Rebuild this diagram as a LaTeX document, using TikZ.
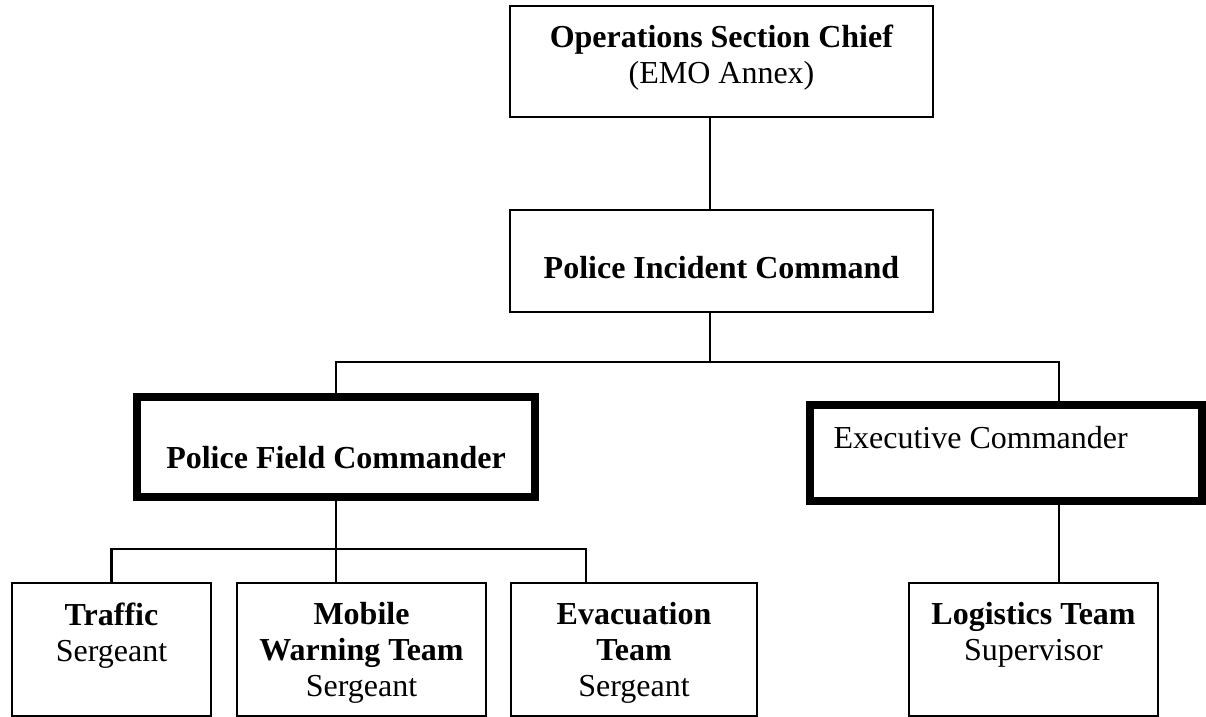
\documentclass[tikz,border=0pt]{standalone}
\usepackage{fontspec}
\setmainfont{Liberation Serif}

\begin{document}
\begin{tikzpicture}[x=0.375pt, y=-0.375pt,
    box/.style={draw, line width=0.8pt, inner sep=0pt},
    heavybox/.style={draw, line width=3pt, inner sep=0pt},
    link/.style={line width=0.8pt},
    txt/.style={font=\fontsize{12}{13.5}\selectfont, align=center, inner sep=0pt}]
        \def\px{0.375pt}                            % one pixel of the picture

        \useasboundingbox (0,0) rectangle (1206,717);

        % Command boxes
        \node[box, minimum width=423*\px, minimum height=111*\px] (ops) at (721.5,61.5) {};
        \node[box, minimum width=423*\px, minimum height=102*\px] (pic) at (721.5,261) {};
        \node[heavybox, minimum width=398*\px, minimum height=100*\px] (pfc) at (336,447) {};
        \node[heavybox, minimum width=392*\px, minimum height=96*\px] (exec) at (1006,453) {};

        % Team boxes
        \node[box, minimum width=199*\px, minimum height=133*\px] (traffic) at (111.5,649.5) {};
        \node[box, minimum width=249*\px, minimum height=133*\px] (mwt) at (361.5,649.5) {};
        \node[box, minimum width=246*\px, minimum height=133*\px] (evac) at (634,649.5) {};
        \node[box, minimum width=249*\px, minimum height=133*\px] (logi) at (1033.5,649.5) {};

        % Texts
        \node[txt, anchor=north] (opsT) at (721.5,24) {\textbf{Operations Section Chief}\\(EMO Annex)};
        \node[txt, anchor=base] (picT) at (721.5,278) {\textbf{Police Incident Command}};
        \node[txt, anchor=base] (pfcT) at (336,468) {\textbf{Police Field Commander}};
        \node[txt, anchor=base west] (execT) at (833,448) {Executive Commander};
        \node[txt, anchor=north] (trafficT) at (111.5,602) {\textbf{Traffic}\\Sergeant};
        \node[txt, anchor=north] (mwtT) at (361.5,602) {\textbf{Mobile}\\\textbf{Warning Team}\\Sergeant};
        \node[txt, anchor=north] (evacT) at (634,602) {\textbf{Evacuation}\\\textbf{Team}\\Sergeant};
        \node[txt, anchor=north] (logiT) at (1033.5,602) {\textbf{Logistics Team}\\Supervisor};

        % Bus points of the connectors
        \coordinate (topbus) at (710,362);
        \coordinate (execdrop) at (1059,362);
        \coordinate (evacdrop) at (586,549);

        % Connectors
        \draw[link] (ops.south -| topbus) -- (pic.north -| topbus);
        \draw[link] (pic.south -| topbus) -- (topbus);
        \draw[link] (pfc.north) |- (execdrop) -- (exec.north -| execdrop);
        \draw[link] (exec.south -| execdrop) -- (logi.north -| execdrop);
        \draw[link] (pfc.south) -- (mwt.north -| pfc.south);
        \draw[link] (traffic.north) |- (evacdrop) -- (evac.north -| evacdrop);

    \end{tikzpicture}
\end{document}
